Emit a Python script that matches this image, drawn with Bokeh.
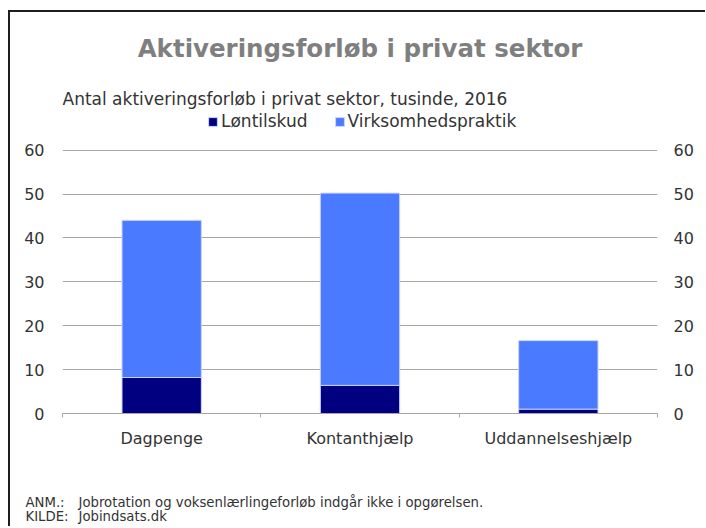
from bokeh.plotting import figure
from bokeh.layouts import column
from bokeh.models import (ColumnDataSource, FixedTicker, LinearAxis, Label, Range1d)
from bokeh.embed import file_html
from bokeh.resources import INLINE

# ---- data ----
categories = ["Dagpenge", "Kontanthjælp", "Uddannelseshjælp"]
series = ["Løntilskud", "Virksomhedspraktik"]
loentilskud = [8.2, 6.4, 1.0]
virksomhedspraktik = [35.8, 43.8, 15.6]
y_ticks = [0, 10, 20, 30, 40, 50, 60]
title_text = "Aktiveringsforløb i privat sektor"
subtitle_text = "Antal aktiveringsforløb i privat sektor, tusinde, 2016"
note_labels = ["ANM.:", "KILDE:"]
note_texts = ["Jobrotation og voksenlærlingeforløb indgår ikke i opgørelsen.",
              "Jobindsats.dk"]

colors = ["#000080", "#4a7aff"]
FONT = "DejaVu Sans"
TXT = "#333333"
GRID = "#a6a6a6"

# ---- layout geometry (canvas pixels) ----
W = 695
H_MAIN = 446
H_NOTE = 68
FRAME_L, FRAME_R = 52, 647
ZERO_Y, TOP_Y = 401, 137.6          # canvas y of value 0 and of value 60
n = len(categories)
px_x = (FRAME_R - FRAME_L) / n
px_y = (ZERO_Y - TOP_Y) / y_ticks[-1]


def dx(cx):
    return (cx - FRAME_L) / px_x


def dy(cy):
    return (ZERO_Y - cy) / px_y


xpos = [i + 0.5 for i in range(n)]
source = ColumnDataSource(dict(x=xpos, **{series[0]: loentilskud, series[1]: virksomhedspraktik}))

p = figure(width=W, height=H_MAIN, output_backend="svg", toolbar_location=None,
           x_range=Range1d(0, n), y_range=Range1d(0, dy(0)),
           min_border_left=FRAME_L, min_border_right=W - FRAME_R,
           min_border_top=0, min_border_bottom=H_MAIN - ZERO_Y)
p.frame_align = False
p.outline_line_color = None
p.border_fill_color = "white"

p.vbar_stack(series, x="x", width=0.4, color=colors, source=source,
             line_color="#c9d3ff", line_width=1, legend_label=series)

# y axes
p.yaxis.ticker = FixedTicker(ticks=y_ticks)
p.ygrid.ticker = FixedTicker(ticks=y_ticks)
p.ygrid.grid_line_color = GRID
p.xgrid.visible = False
ra = LinearAxis(ticker=FixedTicker(ticks=y_ticks))
p.add_layout(ra, "right")
for ax, st in ((p.yaxis[0], 18), (ra, 16)):
    ax.axis_line_color = None
    ax.major_tick_line_color = None
    ax.major_tick_out = 0
    ax.major_tick_in = 0
    ax.minor_tick_line_color = None
    ax.minor_tick_out = 0
    ax.major_label_standoff = st
    ax.major_label_text_font = FONT
    ax.major_label_text_font_size = "16px"
    ax.major_label_text_color = TXT

# x axis
xa = p.xaxis[0]
xa.ticker = FixedTicker(ticks=xpos, minor_ticks=list(range(n + 1)))
xa.major_label_overrides = {x: c for x, c in zip(xpos, categories)}
xa.axis_line_color = GRID
xa.major_tick_line_color = None
xa.major_tick_out = 0
xa.major_tick_in = 0
xa.minor_tick_line_color = GRID
xa.minor_tick_out = 4
xa.minor_tick_in = 0
xa.major_label_standoff = 11
xa.major_label_text_font = FONT
xa.major_label_text_font_size = "16px"
xa.major_label_text_color = TXT

# legend (inside the frame, above the plotted area)
lg = p.legend[0]
lg.orientation = "horizontal"
lg.location = (145, 282)
lg.border_line_color = None
lg.background_fill_alpha = 0
lg.padding = 0
lg.margin = 0
lg.spacing = 26
lg.glyph_width = 11
lg.glyph_height = 11
lg.label_standoff = 3
lg.label_text_font = FONT
lg.label_text_font_size = "17px"
lg.label_text_color = TXT

# title and subtitle
p.add_layout(Label(x=dx(349.5), y=dy(36), text=title_text,
                   text_align="center", text_baseline="alphabetic", text_font=FONT,
                   text_font_size="24.5px", text_font_style="bold", text_color="#7f7f7f"))
p.add_layout(Label(x=dx(52), y=dy(86.5), text=subtitle_text,
                   text_align="left", text_baseline="alphabetic", text_font=FONT,
                   text_font_size="17px", text_color=TXT))

# notes figure
q = figure(width=W, height=H_NOTE, output_backend="svg", toolbar_location=None,
           x_range=Range1d(0, W), y_range=Range1d(0, H_NOTE),
           x_axis_type=None, y_axis_type=None,
           min_border=0, min_border_left=0, min_border_right=0,
           min_border_top=0, min_border_bottom=0)
q.frame_align = False
q.outline_line_color = None
q.xgrid.visible = False
q.ygrid.visible = False
for i, (lab, txt) in enumerate(zip(note_labels, note_texts)):
    yy = H_NOTE - (43.5 + 14 * i)
    q.add_layout(Label(x=15, y=yy, text=lab, text_baseline="alphabetic",
                       text_font=FONT, text_font_size="13.25px", text_color=TXT))
    q.add_layout(Label(x=68, y=yy, text=txt, text_baseline="alphabetic",
                       text_font=FONT, text_font_size="13.25px", text_color=TXT))

lay = column(p, q, spacing=0)
lay.margin = (10, 0, 0, 8)
lay.styles = {"border-top": "2px solid #1e1e1e", "border-left": "2px solid #1e1e1e"}

open("out.html", "w").write(file_html(lay, INLINE))
